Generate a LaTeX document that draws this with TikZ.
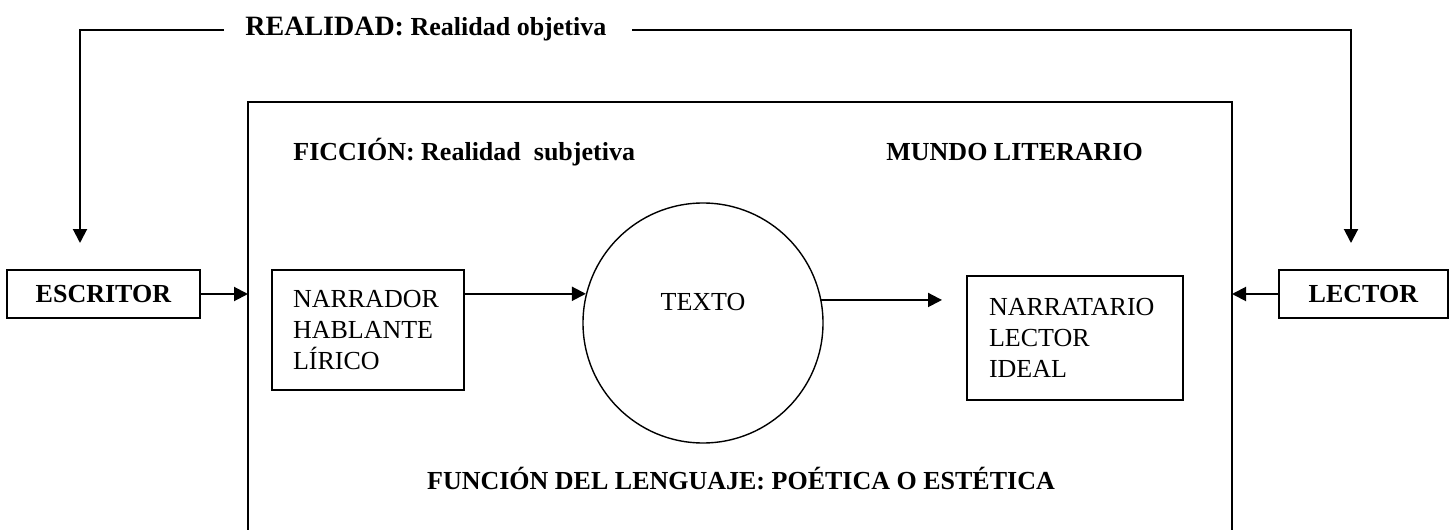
\documentclass[tikz,border=0pt]{standalone}
\usepackage{fontspec}
\setmainfont{Liberation Serif}
\usetikzlibrary{arrows.meta,positioning}

\begin{document}
\begin{tikzpicture}[x=0.5pt,y=-0.5pt]

\tikzset{txtfont/.style={font=\fontsize{13}{15.5}\selectfont},
texto/.style={txtfont, inner sep=0pt},
caja/.style={txtfont, draw, line width=1pt},
flecha/.style={-{Triangle[length=7pt,width=7pt]}, line width=1pt}}

\useasboundingbox (0,0) rectangle (1452,530);

% marco del mundo literario
\coordinate (mi) at (248,102);
\coordinate (md) at (1232,102);
\draw[line width=1pt] (248,540) -- (mi) -- (md) -- (1232,540);

\node[texto, anchor=base west] (real) at (245,35) {{\fontsize{14}{16}\selectfont\textbf{REALIDAD:}} \textbf{Realidad objetiva}};
\node[texto, anchor=base west] (fic) at (293,160) {\textbf{FICCIÓN: Realidad\ \ subjetiva}};
\node[texto, anchor=base west] (mundo) at (886,160) {\textbf{MUNDO LITERARIO}};
\node[texto, anchor=base] (func) at (741,489) {\textbf{FUNCIÓN DEL LENGUAJE: POÉTICA O ESTÉTICA}};

\node[caja, minimum width=96.5pt, minimum height=24pt] (esc) at (103.5,294) {\textbf{ESCRITOR}};
\node[caja, minimum width=84.5pt, minimum height=24pt] (lec) at (1363.5,294) {\textbf{LECTOR}};
\node[caja, minimum height=60pt, text width=75pt, inner xsep=10.5pt, align=left] (narr) at (368,330) {NARRADOR\\HABLANTE\\LÍRICO};
\node[caja, minimum height=62pt, text width=86pt, inner xsep=11pt, align=left] (nrt) at (1075,338) {NARRATARIO\\LECTOR\\IDEAL};
\node[txtfont, circle, draw, line width=0.7pt, minimum size=120pt, inner sep=0pt, text depth=21.4pt] (txt) at (703,323) {TEXTO};

% realidad objetiva
\coordinate (e1) at (80,30);
\coordinate (e2) at (1351,30);
\draw[flecha, shorten >=13pt] (224,30) -- (e1) -- (e1 |- esc.north);
\draw[flecha, shorten >=13pt] (632,30) -- (e2) -- (e2 |- lec.north);

\draw[flecha] (esc) -- (esc -| mi);
\draw[flecha] (lec) -- (lec -| md);
\draw[flecha] (txt.166 -| narr.east) -- (txt.166);
\draw[flecha, shorten >=12pt] (txt.11) -- (txt.11 -| nrt.west);
\end{tikzpicture}
\end{document}
